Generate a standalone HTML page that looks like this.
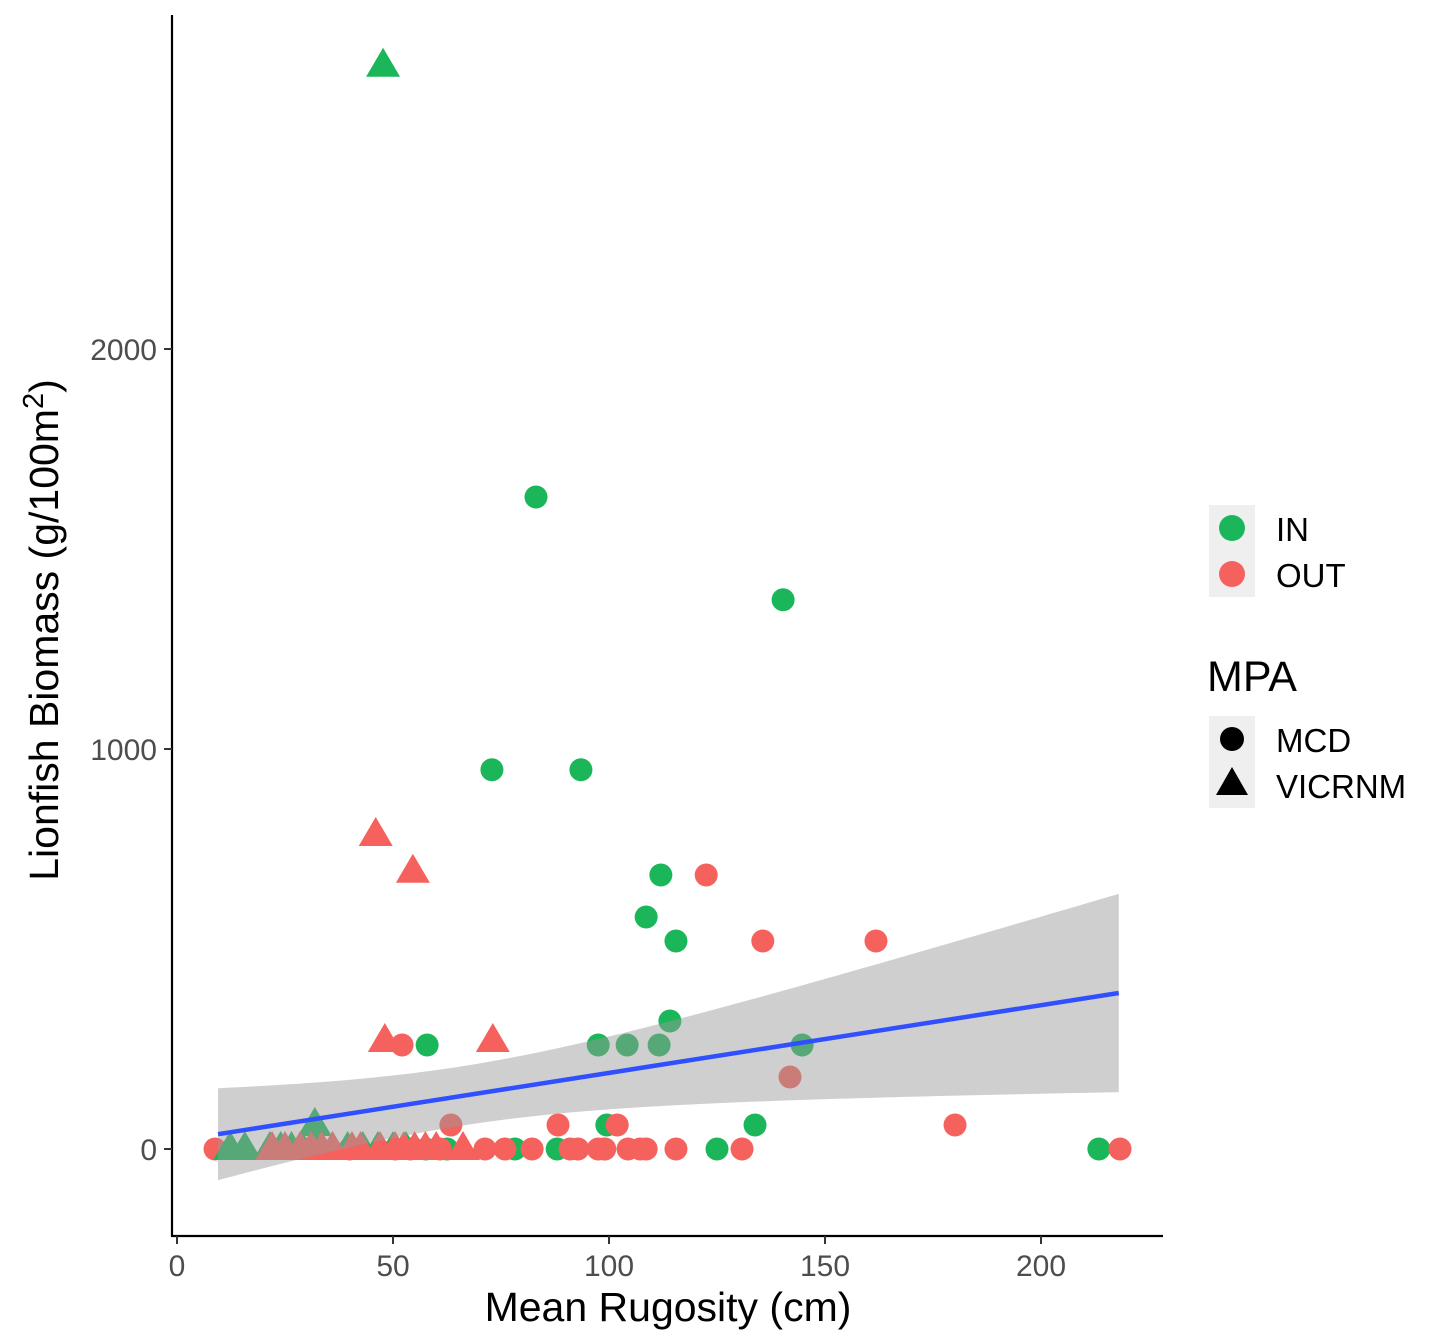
<!DOCTYPE html>
<html><head><meta charset="utf-8"><style>
html,body{margin:0;padding:0;background:#fff;}
svg{display:block;font-family:"Liberation Sans",Arial,sans-serif;}
</style></head><body>
<svg id="chart" width="1440" height="1344" viewBox="0 0 1440 1344" xmlns="http://www.w3.org/2000/svg">
<g id="points"></g>
<g id="fit"></g>
<g id="axes"></g>
<text x="668" y="1321" font-size="41" text-anchor="middle" fill="#000">Mean Rugosity (cm)</text>
<text transform="translate(58,630) rotate(-90)" font-size="41" text-anchor="middle" fill="#000">Lionfish Biomass (g/100m<tspan dy="-15" font-size="29">2</tspan><tspan dy="15">)</tspan></text>
<g>
<rect x="1209" y="505" width="46" height="92" fill="#efefef"/>
<circle cx="1232" cy="528" r="13" fill="#1cb65a"/>
<circle cx="1232" cy="574" r="13" fill="#f5625d"/>
<text x="1276" y="541" font-size="33">IN</text>
<text x="1276" y="587" font-size="33">OUT</text>
</g>
<g>
<text x="1207" y="691" font-size="43">MPA</text>
<rect x="1209" y="716" width="46" height="92" fill="#efefef"/>
<circle cx="1232" cy="739" r="12" fill="#000"/>
<polygon points="1232,767 1248,795 1216,795" fill="#000"/>
<text x="1276" y="752" font-size="33">MCD</text>
<text x="1276" y="798" font-size="33">VICRNM</text>
</g>
</svg>
<script>
const inMcdX = [83.1,140.3,72.9,93.5,112,108.6,115.5,114.1,57.9,97.5,104.2,111.6,144.7,133.8,99.5,125,213.4,57.6,62.5,78.2,88,99];
const inMcdY = [1630,1373,948,948,685,580,520,320,260,260,260,260,260,60,60,0,0,0,0,0,0,0];
const outMcdX = [122.5,135.6,161.8,52.1,141.9,63.4,88.2,101.9,180.1,8.8,40,50.5,54,60.9,71.3,75.9,82.2,91,92.8,97.5,99,104.4,107.2,108.6,115.5,130.8,218.3];
const outMcdY = [685,520,520,260,180,60,60,60,60,0,0,0,0,0,0,0,0,0,0,0,0,0,0,0,0,0,0];
const inVicX = [47.7,31.9,12.3,15.7,21.5,24,26.5,29,32.5,36,39.5,43,46.5,50,53];
const inVicY = [2708,60,0,0,0,0,0,0,0,0,0,0,0,0,0];
const outVicX = [46,54.6,48.1,73.1,22,25,28.5,31,33.5,36,40.5,42.5,47,50.5,52.5,55,57.5,60,66.2];
const outVicY = [785,693,270,270,0,0,0,0,0,0,0,0,0,0,0,0,0,0,0];
const fitX = [9.5,218];
const fitY = [37,390];
const xTicks = [0,50,100,150,200];
const yTicks = [0,1000,2000];

const NS='http://www.w3.org/2000/svg';
const sx = v => 177 + v*4.32;
const sy = v => 1149 - v*0.4;
const GREEN='#1cb65a', RED='#f5625d';
const pts=document.getElementById('points');
function circ(x,y,c){const e=document.createElementNS(NS,'circle');e.setAttribute('cx',sx(x));e.setAttribute('cy',sy(y));e.setAttribute('r',11.5);e.setAttribute('fill',c);


pts.appendChild(e);}
function tri(x,y,c){const cx=sx(x),cy=sy(y);const e=document.createElementNS(NS,'polygon');e.setAttribute('points',`${cx},${cy-18} ${cx+17},${cy+11} ${cx-17},${cy+11}`);e.setAttribute('fill',c);


pts.appendChild(e);}
inMcdX.forEach((x,i)=>circ(x,inMcdY[i],GREEN));
outMcdX.forEach((x,i)=>circ(x,outMcdY[i],RED));
inVicX.forEach((x,i)=>tri(x,inVicY[i],GREEN));
outVicX.forEach((x,i)=>tri(x,outVicY[i],RED));

const fit=document.getElementById('fit');
const slope=(fitY[1]-fitY[0])/(fitX[1]-fitX[0]);
const pred=x=>fitY[0]+slope*(x-fitX[0]);
const hw=x=>Math.sqrt(5505+2.42*(x-65.95)*(x-65.95));
let up=[],lo=[];
for(let i=0;i<=80;i++){const x=fitX[0]+(fitX[1]-fitX[0])*i/80;up.push(`${sx(x)},${sy(pred(x)+hw(x))}`);lo.unshift(`${sx(x)},${sy(pred(x)-hw(x))}`);}
const rib=document.createElementNS(NS,'polygon');rib.setAttribute('points',up.concat(lo).join(' '));rib.setAttribute('fill','#999');rib.setAttribute('fill-opacity','0.47');


fit.appendChild(rib);
const ln=document.createElementNS(NS,'line');ln.setAttribute('x1',sx(fitX[0]));ln.setAttribute('y1',sy(fitY[0]));ln.setAttribute('x2',sx(fitX[1]));ln.setAttribute('y2',sy(fitY[1]));ln.setAttribute('stroke','#3050ff');ln.setAttribute('stroke-width','4.5');


fit.appendChild(ln);

const ax=document.getElementById('axes');
function mk(tag,attrs){const e=document.createElementNS(NS,tag);for(const k in attrs)e.setAttribute(k,attrs[k]);ax.appendChild(e);return e;}
const ya=mk('line',{x1:172,y1:15,x2:172,y2:1237,stroke:'#000','stroke-width':2.2});


const xa=mk('line',{x1:171,y1:1236,x2:1163,y2:1236,stroke:'#000','stroke-width':2.2});


xTicks.forEach(t=>{const tk=mk('line',{x1:sx(t),y1:1236,x2:sx(t),y2:1244,stroke:'#333','stroke-width':2});


const tl=mk('text',{x:sx(t),y:1276,'font-size':30,'text-anchor':'middle',fill:'#4d4d4d'});tl.textContent=t;

});
yTicks.forEach(t=>{const tk=mk('line',{x1:164,y1:sy(t),x2:172,y2:sy(t),stroke:'#333','stroke-width':2});


const tl=mk('text',{x:157,y:sy(t)+11,'font-size':30,'text-anchor':'end',fill:'#4d4d4d'});tl.textContent=t;

});
</script>
</body></html>
